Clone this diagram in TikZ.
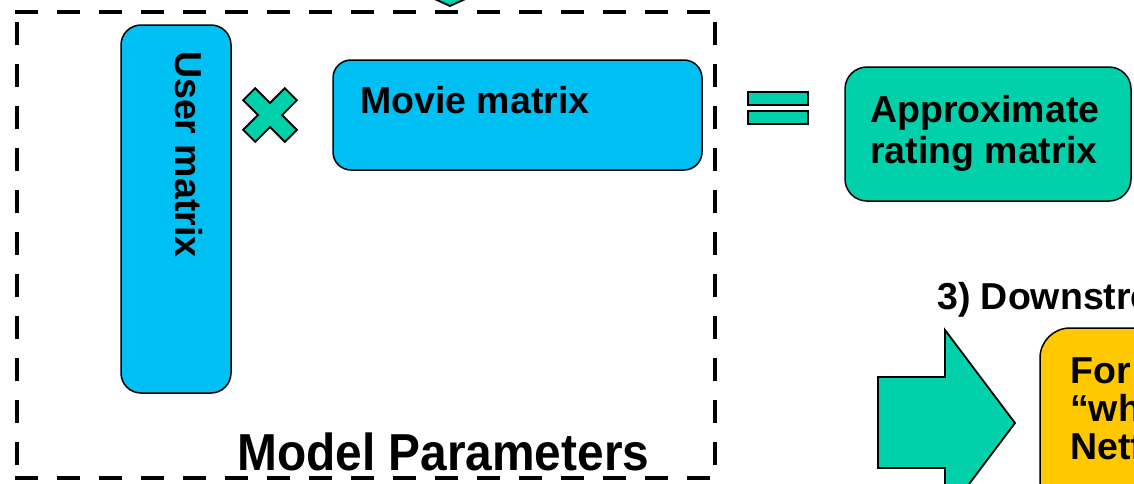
\documentclass[tikz,border=0pt]{standalone}
\usepackage{fontspec}
\setmainfont{Liberation Sans}
\usetikzlibrary{calc}
\definecolor{skyfill}{RGB}{0,191,243}
\definecolor{tealfill}{RGB}{0,209,170}
\definecolor{goldfill}{RGB}{255,200,0}
\tikzset{
  panel/.style={draw=black, line width=1.5pt, rounded corners=#1, inner sep=0pt},
  lbl/.style={font=\fontsize{37.5}{42}\selectfont\bfseries, inner sep=0pt, anchor=base west},
  frame/.style={line width=4pt, dash pattern=on 23pt off 19pt},
  glyph/.style={draw=black, line width=1.8pt, fill=tealfill, line join=miter},
}
\begin{document}
\begin{tikzpicture}[x=1pt,y=-1pt]
\useasboundingbox (0,0) rectangle (1134,483);
\clip (0,0) rectangle (1134,483);

% dashed frame around the model parameters
\draw[frame] (15,12) -- (719,12);
\draw[frame] (17,22) -- (17,480);
\draw[frame] (715,22) -- (715,480);
\draw[frame] (15,478) -- (719,478);

% tip of the incoming arrow from above
\draw[glyph] (428,-4) -- (472,-4) -- (450,6) -- cycle;

% matrices
\node[panel=20pt, fill=skyfill, minimum width=110pt, minimum height=368pt] (user) at (176,209) {};
\node[lbl, rotate=-90] (usertxt) at (175,51) {User matrix};

\node[panel=18pt, fill=skyfill, minimum width=369pt, minimum height=110pt] (movie) at (517.5,115) {};
\node[lbl] (movietxt) at (360,113) {Movie matrix};

% multiplication sign
\draw[glyph, shift={(270,115)}, rotate=45]
  (-8.5,-29.5) -- (8.5,-29.5) -- (8.5,-8.5) -- (29.5,-8.5) -- (29.5,8.5) -- (8.5,8.5)
  -- (8.5,29.5) -- (-8.5,29.5) -- (-8.5,8.5) -- (-29.5,8.5) -- (-29.5,-8.5) -- (-8.5,-8.5) -- cycle;

% equals sign
\draw[glyph] (748,92) rectangle (808,105);
\draw[glyph] (748,111) rectangle (808,124);

% result
\node[panel=22pt, fill=tealfill, minimum width=286pt, minimum height=134pt] (approx) at (988,134) {};
\node[lbl] (approxtxt1) at (870,122) {Approximate};
\node[lbl] (approxtxt2) at (870,163) {rating matrix};

% downstream step
\node[lbl] (downtxt) at (937,309) {3) Downstream};
\draw[glyph] (878,377) -- (945,377) -- (945,330) -- (1015,423) -- (945,516) -- (945,468) -- (878,468) -- cycle;
\node[panel=30pt, fill=goldfill, minimum width=300pt, minimum height=250pt] (task) at (1190,453) {};
\node[lbl] (tasktxt1) at (1070,383) {For example,};
\node[lbl] (tasktxt2) at (1070,421) {“which movie};
\node[lbl] (tasktxt3) at (1070,459) {Netflix};

% caption of the frame
\node[lbl, font=\fontsize{52}{60}\selectfont\bfseries, xscale=0.92] (params) at (237,470) {Model Parameters};
\end{tikzpicture}
\end{document}
